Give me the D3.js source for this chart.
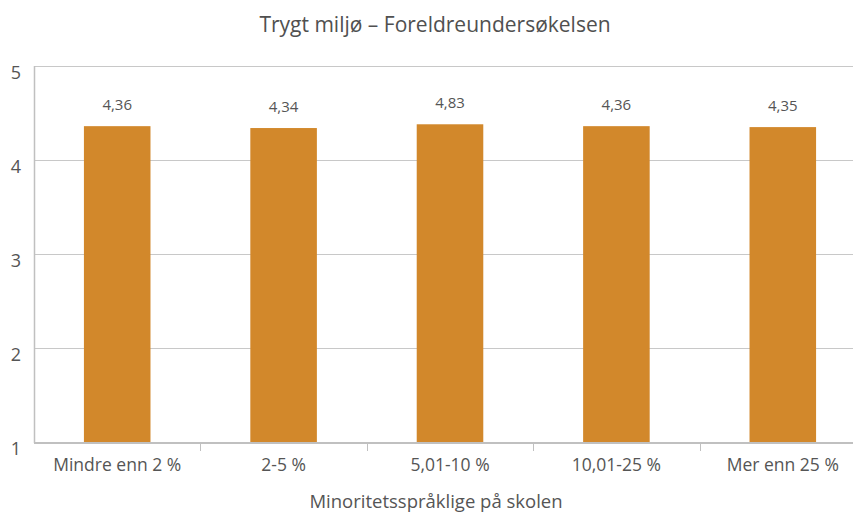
<!DOCTYPE html>
<html>
<head>
<meta charset="utf-8">
<script src="https://cdn.jsdelivr.net/npm/d3@7"></script>
<style>
body{margin:0;background:#fff;}
text{font-family:"Open Sans",sans-serif;}
</style>
</head>
<body>
<div id="chart"></div>
<script>
var categories = ["Mindre enn 2 %", "2-5 %", "5,01-10 %", "10,01-25 %", "Mer enn 25 %"];
var values = [4.36, 4.34, 4.38, 4.36, 4.35];
var valueLabels = ["4,36", "4,34", "4,83", "4,36", "4,35"];
var yTicks = [1, 2, 3, 4, 5];

var W = 853, H = 513;
var margin = {left: 34, right: -13, top: 66, bottom: 71};

var svg = d3.select("#chart").append("svg")
    .attr("width", W)
    .attr("height", H);

var x = d3.scaleBand()
    .domain(categories)
    .range([margin.left, W - margin.right])
    .padding(0);

var y = d3.scaleLinear()
    .domain([1, 5])
    .range([H - margin.bottom, margin.top]);

//gridlines
svg.append("g").selectAll("line")
    .data(yTicks.slice(1))
    .enter().append("line")
    .attr("x1", margin.left)
    .attr("x2", W)
    .attr("y1", function(d){ return y(d) + 0.5; })
    .attr("y2", function(d){ return y(d) + 0.5; })
    .attr("stroke", "#c8c8c8")
    .attr("stroke-width", 1);

//y tick labels
svg.append("g").selectAll("text")
    .data(yTicks)
    .enter().append("text")
    .attr("x", 16)
    .attr("y", function(d){ return y(d) + 13; })
    .attr("text-anchor", "middle")
    .attr("font-size", 18)
    .attr("fill", "#555")
    .text(function(d){ return d; });

//bars
var bw = x.bandwidth() * 0.4;
svg.append("g").selectAll("rect")
    .data(values)
    .enter().append("rect")
    .attr("x", function(d, i){ return x(categories[i]) + (x.bandwidth() - bw) / 2; })
    .attr("y", function(d){ return y(d); })
    .attr("width", bw)
    .attr("height", function(d){ return y(1) - y(d); })
    .attr("fill", "#d2882b");

//value labels
svg.append("g").selectAll("text")
    .data(values)
    .enter().append("text")
    .attr("x", function(d, i){ return x(categories[i]) + x.bandwidth() / 2; })
    .attr("y", function(d){ return y(d) - 16; })
    .attr("text-anchor", "middle")
    .attr("font-size", 15)
    .attr("fill", "#555")
    .text(function(d, i){ return valueLabels[i]; });

//y axis line
svg.append("line")
    .attr("x1", margin.left + 0.5).attr("x2", margin.left + 0.5)
    .attr("y1", margin.top).attr("y2", y(1) + 1)
    .attr("stroke", "#c0c0c0").attr("stroke-width", 1.5);

//x axis
var xAxis = svg.append("g")
    .attr("transform", "translate(0," + (y(1) + 1) + ")")
    .call(d3.axisBottom(x).tickSize(0).tickPadding(16));
xAxis.select(".domain").attr("stroke", "#c0c0c0").attr("stroke-width", 2)
    .attr("d", "M" + margin.left + ",0H" + W);
xAxis.selectAll("text")
    .attr("font-family", "Open Sans, sans-serif")
    .attr("font-size", 17.5)
    .attr("fill", "#555");

//category separators
svg.append("g").selectAll("line")
    .data(categories.slice(1))
    .enter().append("line")
    .attr("x1", function(d){ return Math.round(x(d)) + 0.5; })
    .attr("x2", function(d){ return Math.round(x(d)) + 0.5; })
    .attr("y1", y(1))
    .attr("y2", y(1) + 9)
    .attr("stroke", "#c0c0c0");

//title
svg.append("text")
    .attr("x", 435).attr("y", 32)
    .attr("text-anchor", "middle")
    .attr("font-size", 21)
    .attr("fill", "#505050")
    .text("Trygt miljø – Foreldreundersøkelsen");

//axis title
svg.append("text")
    .attr("x", 436).attr("y", 508)
    .attr("text-anchor", "middle")
    .attr("font-size", 18.5)
    .attr("fill", "#555")
    .text("Minoritetsspråklige på skolen");
</script>
</body>
</html>
